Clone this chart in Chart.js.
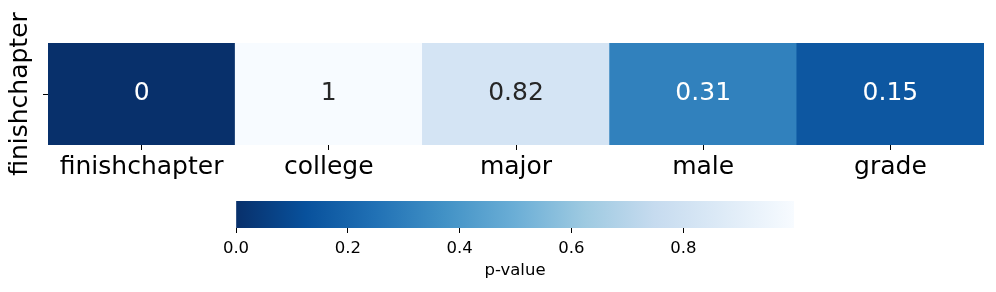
<!DOCTYPE html>
<html>
<head>
<meta charset="utf-8">
<script src="https://cdn.jsdelivr.net/npm/chart.js@4"></script>
<style>
  html, body { margin: 0; padding: 0; background: #fff; }
  .box { position: absolute; left: 0; width: 996px; }
</style>
</head>
<body>
<div class="box" style="top:0;height:190px"><canvas id="heat"></canvas></div>
<div class="box" style="top:190px;height:102px"><canvas id="cbar"></canvas></div>
<script>
// -------------------------
// Data
// -------------------------
const rowLabel = 'finishchapter';
const categories = ['finishchapter', 'college', 'major', 'male', 'grade'];
const pValues = [0, 0.998, 0.82, 0.31, 0.15];
const colorbarTicks = [0, 0.2, 0.4, 0.6, 0.8];
const colorbarTitle = 'p-value';

const vMin = Math.min(...pValues);
const vMax = Math.max(...pValues);

// matplotlib "Blues" anchors (light -> dark), used reversed
const BLUES = ['#f7fbff', '#deebf7', '#c6dbef', '#9ecae1', '#6baed6', '#4292c6', '#2171b5', '#08519c', '#08306b'];
const BLUES_R = BLUES.slice().reverse();

const FONT = '"DejaVu Sans", sans-serif';
const BIG = 25;
const SMALL = 16.5;

function hexToRgb(h) {
    return [1, 3, 5].map(i => parseInt(h.slice(i, i + 2), 16));
}

function bluesR(v) {
    let t = (v - vMin) / (vMax - vMin);
    t = Math.max(0, Math.min(1, t));
    const pos = t * (BLUES_R.length - 1);
    const i = Math.min(Math.floor(pos), BLUES_R.length - 2);
    const f = pos - i;
    const a = hexToRgb(BLUES_R[i]);
    const b = hexToRgb(BLUES_R[i + 1]);
    const c = a.map((x, k) => Math.round(x + (b[k] - x) * f));
    return { css: `rgb(${c[0]},${c[1]},${c[2]})`, rgb: c };
}

function fmt(v) {
    return String(Number(v.toPrecision(2)));
}

function luminance(rgb) {
    const l = rgb.map(x => {
        x /= 255;
        return x <= 0.03928 ? x / 12.92 : Math.pow((x + 0.055) / 1.055, 2.4);
    });
    return 0.2126 * l[0] + 0.7152 * l[1] + 0.0722 * l[2];
}

// -------------------------
// Cell annotations
// -------------------------
const cellText = {
    id: 'cellText',
    afterDatasetsDraw(chart) {
        const ctx = chart.ctx;
        const meta = chart.getDatasetMeta(0);
        ctx.save();
        ctx.font = BIG + 'px ' + FONT;
        ctx.textAlign = 'center';
        ctx.textBaseline = 'middle';
        meta.data.forEach((bar, i) => {
            const v = pValues[i];
            const c = bluesR(v);
            ctx.fillStyle = luminance(c.rgb) > 0.408 ? '#262626' : '#ffffff';
            const p = bar.getCenterPoint();
            ctx.fillText(fmt(v), p.x, p.y - 1);
        });
        ctx.restore();
    }
};

// -------------------------
// Heatmap
// -------------------------
new Chart(document.getElementById('heat'), {
    type: 'bar',
    data: {
        labels: categories,
        datasets: [{
            data: categories.map(() => [0, 1]),
            backgroundColor: pValues.map(v => bluesR(v).css),
            borderWidth: 0,
            barPercentage: 1,
            categoryPercentage: 1
        }]
    },
    options: {
        responsive: true,
        maintainAspectRatio: false,
        animation: false,
        layout: { padding: { top: 43, right: 12, left: 0, bottom: 0 } },
        plugins: { legend: { display: false }, tooltip: { enabled: false } },
        scales: {
            x: {
                grid: { offset: false, drawOnChartArea: false, tickLength: 5, color: '#000' },
                border: { display: false },
                ticks: { color: '#000', font: { family: FONT, size: BIG }, padding: 2, maxRotation: 0 },
                afterFit(s) { s.height = 45; }
            },
            y: {
                min: 0,
                max: 1,
                afterBuildTicks(s) { s.ticks = [{ value: 0.5 }]; },
                grid: { drawOnChartArea: false, tickLength: 5, color: '#000' },
                border: { display: false },
                ticks: { callback: () => '' },
                title: {
                    display: true,
                    text: rowLabel,
                    color: '#000',
                    font: { family: FONT, size: BIG },
                    padding: { top: 5.5, bottom: 0 }
                },
                afterFit(s) { s.width = 48; }
            }
        }
    },
    plugins: [cellText]
});

// -------------------------
// Colorbar
// -------------------------
new Chart(document.getElementById('cbar'), {
    type: 'bar',
    data: {
        labels: [''],
        datasets: [{
            data: [vMax],
            backgroundColor(ctx) {
                const ca = ctx.chart.chartArea;
                if (!ca) return BLUES_R[0];
                const g = ctx.chart.ctx.createLinearGradient(ca.left, 0, ca.right, 0);
                BLUES_R.forEach((c, i) => g.addColorStop(i / (BLUES_R.length - 1), c));
                return g;
            },
            borderWidth: 0,
            barPercentage: 1,
            categoryPercentage: 1
        }]
    },
    options: {
        indexAxis: 'y',
        responsive: true,
        maintainAspectRatio: false,
        animation: false,
        layout: { padding: { top: 11, left: 236, right: 202, bottom: 0 } },
        plugins: { legend: { display: false }, tooltip: { enabled: false } },
        scales: {
            x: {
                min: vMin,
                max: vMax,
                afterBuildTicks(s) { s.ticks = colorbarTicks.map(v => ({ value: v })); },
                grid: { drawOnChartArea: false, tickLength: 5, color: '#000' },
                border: { display: false },
                ticks: {
                    color: '#000',
                    font: { family: FONT, size: SMALL },
                    padding: 6,
                    maxRotation: 0,
                    autoSkip: false,
                    callback: v => Number(v).toFixed(1)
                },
                title: {
                    display: true,
                    text: colorbarTitle,
                    color: '#000',
                    font: { family: FONT, size: SMALL },
                    padding: { top: 2, bottom: 11 }
                },
                afterFit(s) { s.height = 64; }
            },
            y: { display: false }
        }
    }
});
</script>
</body>
</html>
